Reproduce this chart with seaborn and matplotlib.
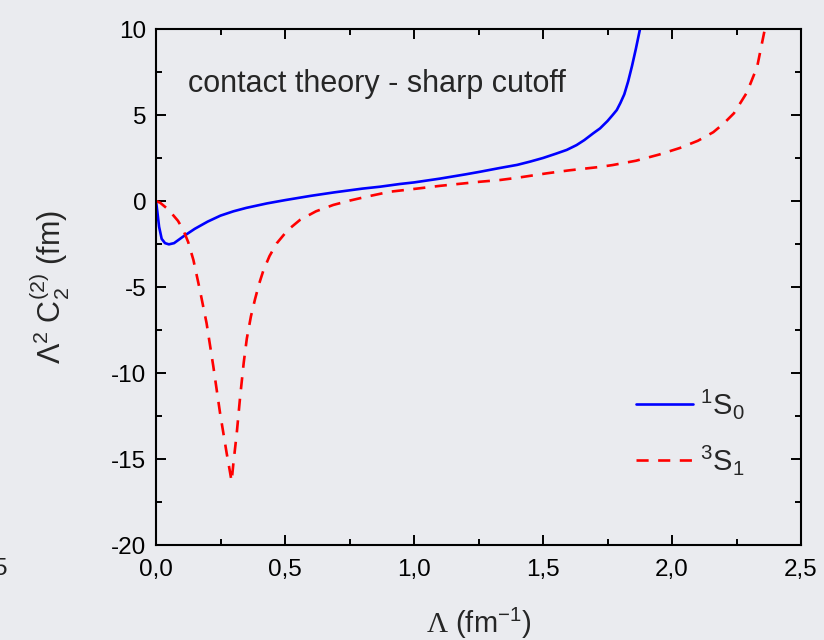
import matplotlib
matplotlib.use("Agg")
import matplotlib.pyplot as plt
import seaborn as sns
import pandas as pd
from matplotlib.ticker import FixedLocator, FixedFormatter, MultipleLocator

# ---- data ----
lam_1s0 = [0.0, 0.005, 0.012, 0.022, 0.035, 0.05, 0.07, 0.105, 0.15, 0.2, 0.25,
           0.3, 0.35, 0.43, 0.5, 0.6, 0.69, 0.8, 0.868, 0.946, 1.0, 1.1, 1.2,
           1.256, 1.333, 1.4, 1.45, 1.5, 1.55, 1.592, 1.63, 1.66, 1.695, 1.721,
           1.75, 1.77, 1.786, 1.80, 1.815, 1.83, 1.845, 1.86, 1.876]
c_1s0 = [0.0, -0.6, -1.5, -2.2, -2.45, -2.52, -2.45, -2.07, -1.62, -1.2, -0.85,
         -0.6, -0.4, -0.14, 0.05, 0.3, 0.5, 0.72, 0.83, 0.99, 1.08, 1.3, 1.55,
         1.70, 1.92, 2.1, 2.29, 2.5, 2.75, 2.97, 3.25, 3.54, 3.94, 4.22,
         4.65, 5.0, 5.29, 5.7, 6.2, 6.95, 7.85, 8.85, 10.0]

lam_3s1 = [0.0, 0.016, 0.04, 0.06, 0.085, 0.106, 0.125, 0.145, 0.17, 0.196, 0.222,
           0.248, 0.274, 0.285, 0.293, 0.30, 0.313, 0.326, 0.34, 0.352, 0.368,
           0.384, 0.40, 0.416, 0.44, 0.468, 0.51, 0.558, 0.62, 0.687, 0.75,
           0.816, 0.907, 1.0, 1.1, 1.256, 1.333, 1.4, 1.515, 1.6, 1.72, 1.77,
           1.86, 1.95, 2.03, 2.1, 2.16, 2.2, 2.24, 2.29, 2.33, 2.36]
c_3s1 = [0.0, -0.1, -0.4, -0.71, -1.15, -1.69, -2.4, -3.43, -5.17, -7.1, -9.6,
         -12.3, -14.67, -15.6, -16.3, -15.25, -13.5, -11.4, -9.4, -8.0, -6.7,
         -5.7, -4.8, -4.05, -3.2, -2.46, -1.7, -1.1, -0.6, -0.23, 0.02,
         0.25, 0.54, 0.7, 0.88, 1.12, 1.22, 1.35, 1.61, 1.78, 1.98, 2.09,
         2.34, 2.7, 3.08, 3.5, 4.0, 4.5, 5.1, 6.3, 7.8, 10.0]

x_ticks = [0.0, 0.5, 1.0, 1.5, 2.0, 2.5]
x_tick_labels = ["0,0", "0,5", "1,0", "1,5", "2,0", "2,5"]
y_ticks = [-20, -15, -10, -5, 0, 5, 10]
y_tick_labels = ["-20", "-15", "-10", "-5", "0", "5", "10"]
series_labels = [r"$^{1}\mathrm{S}_{0}$", r"$^{3}\mathrm{S}_{1}$"]
annotation = "contact theory - sharp cutoff"

# ---- style ----
sns.set_style("ticks")
bg = "#eaebef"
plt.rcParams["font.family"] = ["Liberation Sans", "DejaVu Sans"]
plt.rcParams["mathtext.fontset"] = "custom"
plt.rcParams["mathtext.rm"] = "Liberation Sans"
plt.rcParams["mathtext.it"] = "Liberation Sans:italic"
plt.rcParams["mathtext.bf"] = "Liberation Sans:bold"
plt.rcParams["mathtext.sf"] = "Liberation Serif"

fig = plt.figure(figsize=(8.24, 6.40), dpi=100, facecolor=bg)
ax = fig.add_axes([156/824, 1-545/640, (801-156)/824, (545-29)/640])
ax.set_facecolor(bg)

df1 = pd.DataFrame({"x": lam_1s0, "y": c_1s0})
df2 = pd.DataFrame({"x": lam_3s1, "y": c_3s1})
sns.lineplot(data=df1, x="x", y="y", ax=ax, color="#0000ff", lw=1.9,
             estimator=None, sort=False, label=series_labels[0])
sns.lineplot(data=df2, x="x", y="y", ax=ax, color="#ff0000", lw=1.9,
             estimator=None, sort=False, label=series_labels[1],
             dashes=False)
ax.lines[1].set_dashes((4.6, 3.6))

ax.set_xlim(0, 2.5)
ax.set_ylim(-20, 10)
ax.xaxis.set_major_locator(FixedLocator(x_ticks))
ax.xaxis.set_major_formatter(FixedFormatter(x_tick_labels))
ax.yaxis.set_major_locator(FixedLocator(y_ticks))
ax.yaxis.set_major_formatter(FixedFormatter(y_tick_labels))
ax.xaxis.set_minor_locator(MultipleLocator(0.25))
ax.yaxis.set_minor_locator(MultipleLocator(2.5))

for s in ax.spines.values():
    s.set_visible(True)
    s.set_linewidth(1.5)
    s.set_color("black")
ax.tick_params(which="both", direction="in", top=True, right=True,
               width=1.4, colors="black", labelsize=17.5)
ax.tick_params(which="major", length=7)
ax.tick_params(axis="y", which="major", pad=7)
ax.tick_params(axis="x", which="major", pad=10)
ax.tick_params(which="minor", length=4)

ax.set_xlabel(r"$\mathsf{\Lambda}$ (fm$^{-1}$)", fontsize=21, labelpad=18)
ax.set_ylabel(r"$\Lambda^{2}$ C$_{2}^{(2)}$ (fm)", fontsize=22, labelpad=28)

ax.text(0.124, 6.34, annotation, fontsize=22, va="baseline", ha="left")

leg = ax.legend(loc="center left", bbox_to_anchor=(636/824, 1-432/640),
                bbox_transform=fig.transFigure, frameon=False, fontsize=21,
                handlelength=1.95, handletextpad=0.25, borderpad=0,
                borderaxespad=0, labelspacing=0.75)

fig.text(-0.007, 1-575/640, "5", fontsize=17.5, color="#222222", ha="left",
         va="baseline")

fig.savefig("out.png", dpi=100, facecolor=bg)
